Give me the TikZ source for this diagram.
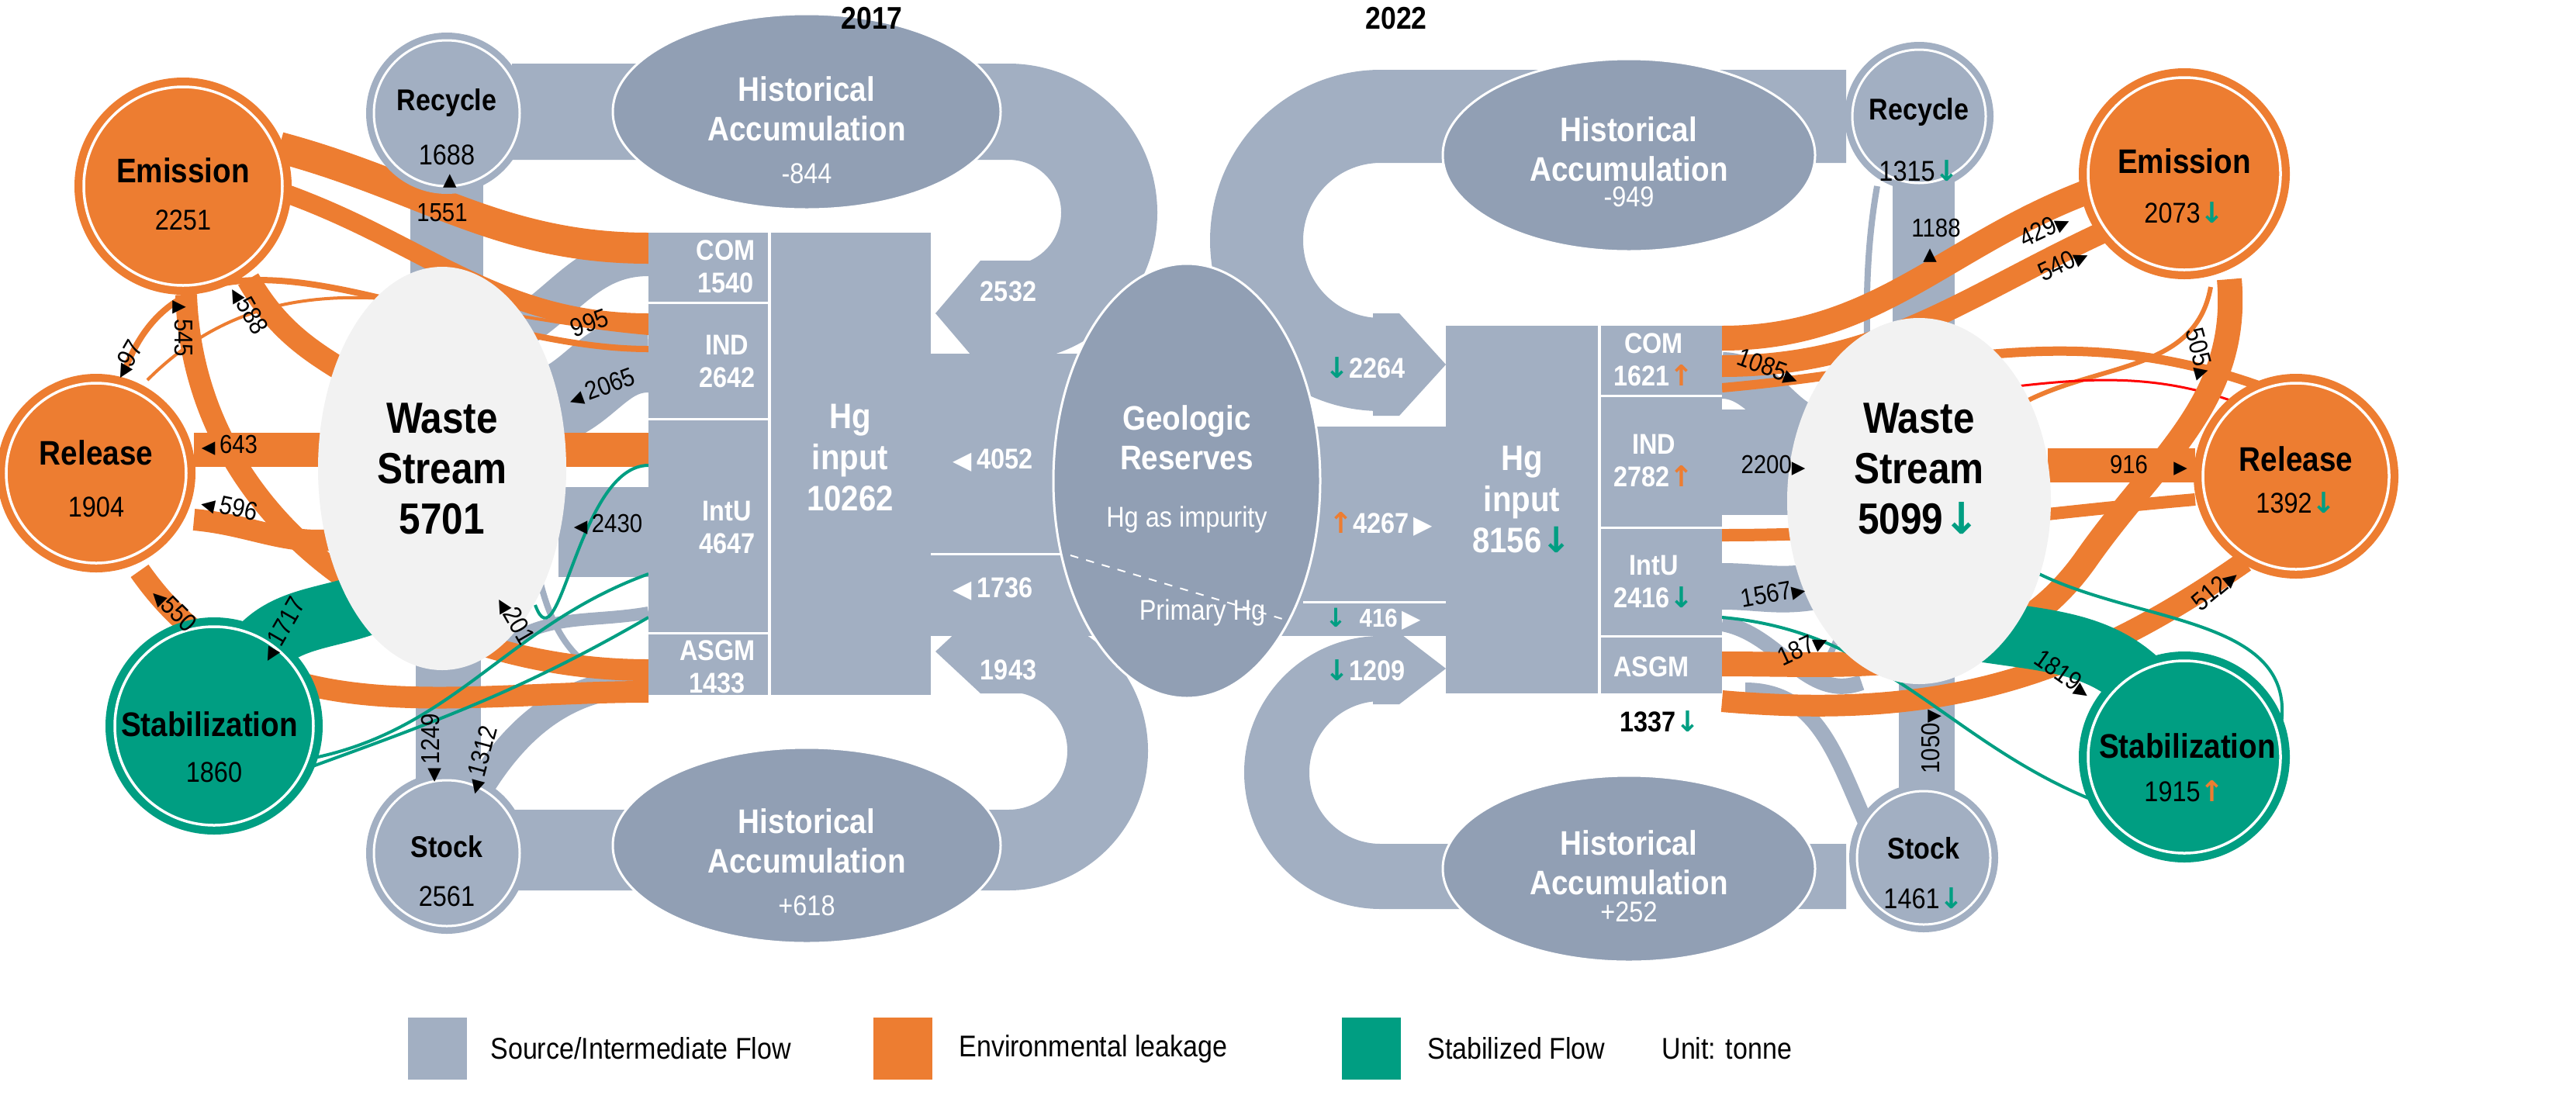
\documentclass[tikz,border=0pt]{standalone}
\usepackage{fontspec}
\setmainfont{Liberation Sans}[FakeStretch=0.88]
\newfontfamily\symf{DejaVu Sans}
\definecolor{gf}{HTML}{A2AFC2}
\definecolor{og}{HTML}{ED7D31}
\definecolor{tl}{HTML}{009E82}
\definecolor{el}{HTML}{919FB4}
\definecolor{ws}{HTML}{F2F2F2}
\newcommand\dn{{\symf\bfseries\color{tl}↓}}
\newcommand\upo{{\symf\bfseries\color{og}↑}}
\newcommand\tL{{\symf\fontsize{6.5}{6.5}\selectfont ◀}}
\newcommand\tR{{\symf\fontsize{6.5}{6.5}\selectfont ▶}}
\newcommand\tU{{\symf\fontsize{6.5}{6.5}\selectfont ▲}}
\newcommand\tD{{\symf\fontsize{6.5}{6.5}\selectfont ▼}}
\newcommand\bL{{\symf\fontsize{9}{9}\selectfont ◀}}
\newcommand\bR{{\symf\fontsize{9}{9}\selectfont ▶}}
\begin{document}
\begin{tikzpicture}[x=0.2mm,y=-0.2mm,
 fl/.style={draw=gf,line width=#1*0.2mm},
 of/.style={draw=og,line width=#1*0.2mm},
 tf/.style={draw=tl,line width=#1*0.2mm},
 ttl/.style={font=\fontsize{11}{13}\selectfont\bfseries},
 num/.style={font=\fontsize{10.5}{12}\selectfont},
 lab/.style={font=\fontsize{9.5}{11}\selectfont},
 wl/.style={font=\fontsize{10.5}{12}\selectfont\bfseries,text=white,align=center},
 big/.style={font=\fontsize{16}{18.5}\selectfont\bfseries,align=center},
 hg/.style={font=\fontsize{13}{15}\selectfont\bfseries,text=white,align=center},
 leg/.style={font=\fontsize{11}{13}\selectfont,anchor=west}]
\useasboundingbox (0,0) rectangle (1660.5,708);

% ================= LEFT (2017) gray flows =================
\draw[fl=62] (330,72) -- (650,72) arc[start angle=-90,end angle=90,radius=65];
\fill[gf] (665,168) -- (632,168) -- (603,202) -- (632,236) -- (665,236) -- cycle;
\draw[fl=52] (330,548) -- (650,548) arc[start angle=90,end angle=-90,radius=64];
\fill[gf] (665,393) -- (632,393) -- (603,420) -- (632,447) -- (665,447) -- cycle;
\fill[gf] (600,228) rectangle (725,410);
\draw[white,line width=0.3mm] (600,357) -- (725,357);
\draw[fl=47] (288,110) -- (288,200);
\draw[fl=42] (289,420) -- (289,510);
\draw[fl=26] (418,165) to[out=180,in=30] (330,215);
\draw[fl=50] (418,228) to[out=180,in=20] (355,262);
\draw[fl=58] (418,343) -- (360,343);
\draw[fl=8] (418,395) to[out=190,in=40] (320,420);
\draw[fl=18] (418,440) to[out=180,in=60] (305,515);
\draw[fl=4] (330,230) to[out=-80,in=180] (418,440);

% ================= LEFT orange / teal =================
\draw[of=20] (180,95) to[out=-15,in=180] (418,160);
\draw[of=12] (185,125) to[out=-20,in=180] (418,208);
\draw[of=15] (160,180) to[out=-60,in=150] (240,250);
\draw[of=14] (120,190) to[out=-88,in=180] (418,432);
\draw[of=4] (80,240) to[out=70,in=180] (418,225);
\draw[of=2] (95,245) to[out=45,in=175] (418,215);
\draw[of=22] (125,290) -- (418,290);
\draw[of=14] (125,335) to[out=-5,in=195] (230,345);
\draw[of=14] (90,368) to[out=-55,in=180] (418,446);
\draw[tf=40] (262,375) to[out=220,in=60] (160,428);
\draw[tf=2] (195,490) to[out=10,in=200] (418,370);
\draw[tf=2] (185,500) to[out=20,in=210] (418,398);
\draw[tf=2] (345,390) to[out=-70,in=180] (418,300);

% ================= RIGHT (2022) gray flows =================
\draw[fl=60] (1190,75) -- (890,75) arc[start angle=-90,end angle=-270,radius=80];
\fill[gf] (885,202) -- (902,202) -- (932,235) -- (902,268) -- (885,268) -- cycle;
\draw[fl=42] (1190,565) -- (890,565) arc[start angle=90,end angle=270,radius=67];
\fill[gf] (885,408) -- (902,408) -- (932,431) -- (902,454) -- (885,454) -- cycle;
\fill[gf] (815,275) rectangle (932,410);
\draw[white,line width=0.3mm] (840,388) -- (932,388);
\draw[fl=40] (1240,110) -- (1240,210);
\draw[fl=36] (1242,430) -- (1242,520);
\draw[fl=4] (1210,120) to[out=-100,in=60] (1170,440);
\draw[fl=30] (1110,242) to[out=0,in=200] (1180,275);
\draw[fl=68] (1110,298) -- (1175,298);
\draw[fl=30] (1110,378) to[out=0,in=190] (1170,378);
\draw[fl=10] (1110,402) to[out=-10,in=200] (1200,440);
\draw[fl=10] (1125,445) to[out=0,in=120] (1215,555);

% ================= RIGHT orange / teal =================
\draw[of=16] (1110,218) to[out=0,in=200] (1350,122);
\draw[of=14] (1110,236) to[out=0,in=205] (1355,150);
\draw[of=6] (1110,250) to[out=5,in=160] (1460,250);
\draw[of=3] (1425,185) to[out=-100,in=30] (1300,262);
\draw[red,line width=0.3mm] (1190,258) to[out=0,in=155] (1462,268);
\draw[of=22] (1320,300) -- (1415,300);
\draw[of=8] (1110,345) to[out=0,in=185] (1415,322);
\draw[of=16] (1110,428) to[out=0,in=235] (1345,360) to[out=55,in=-85] (1437,180);
\draw[of=14] (1110,452) to[out=-5,in=215] (1447,362);
\draw[tf=40] (1245,400) to[out=-15,in=125] (1392,455);
\draw[tf=2] (1305,365) to[out=-30,in=80] (1470,470);
\draw[tf=2] (1110,398) to[out=-5,in=160] (1360,520);

% ================= NODES left =================
\fill[el] (520,72) ellipse [x radius=125,y radius=63];
\draw[white,line width=0.3mm] (520,72) ellipse [x radius=125,y radius=63];
\node[wl,font=\fontsize{12.5}{14.5}\selectfont\bfseries] (hal) at (520,70) {Historical\\Accumulation};
\node[wl,font=\fontsize{10.5}{12}\selectfont] (hav) at (520,112) {-844};
\fill[el] (520,545) ellipse [x radius=125,y radius=63];
\draw[white,line width=0.3mm] (520,545) ellipse [x radius=125,y radius=63];
\node[wl,font=\fontsize{12.5}{14.5}\selectfont\bfseries] (hbl) at (520,542) {Historical\\Accumulation};
\node[wl,font=\fontsize{10.5}{12}\selectfont] (hbv) at (520,584) {+618};

\fill[gf] (288,73) circle[radius=52]; \draw[white,line width=0.3mm] (288,73) circle[radius=47];
\node[ttl] (rec) at (288,66) {Recycle}; \node[num] at (288,100) {1688};
\fill[gf] (288,550) circle[radius=52]; \draw[white,line width=0.3mm] (288,550) circle[radius=47];
\node[ttl] (sto) at (288,546) {Stock}; \node[num] at (288,578) {2561};
\fill[og] (118,120) circle[radius=70]; \draw[white,line width=0.35mm] (118,120) circle[radius=64];
\node[ttl,font=\fontsize{12.5}{14}\selectfont\bfseries] (emi) at (118,110) {Emission}; \node[num] at (118,142) {2251};
\fill[og] (62,305) circle[radius=64]; \draw[white,line width=0.35mm] (62,305) circle[radius=58];
\node[ttl,font=\fontsize{12.5}{14}\selectfont\bfseries] (rel) at (62,292) {Release}; \node[num] at (62,327) {1904};
\fill[tl] (138,468) circle[radius=70]; \draw[white,line width=0.35mm] (138,468) circle[radius=64];
\node[ttl,font=\fontsize{12.5}{14}\selectfont\bfseries] (sta) at (135,467) {Stabilization}; \node[num] at (138,498) {1860};
\fill[ws] (285,302) ellipse [x radius=80,y radius=130];
\node[big] (wsl) at (285,302) {Waste\\Stream\\5701};

\fill[gf] (418,150) rectangle (495,448);
\fill[gf] (497,150) rectangle (600,448);
\draw[white,line width=0.3mm] (418,195) -- (495,195) (418,270) -- (495,270) (418,408) -- (495,408);
\node[wl,anchor=east] (coml) at (493,172) {COM\\1540};
\node[wl,anchor=east] (indl) at (493,233) {IND\\2642};
\node[wl,anchor=east] (intl) at (493,340) {IntU\\4647};
\node[wl,anchor=east] (asgl) at (493,430) {ASGM\\1433};
\node[hg] (hgl) at (548,295) {Hg\\input\\10262};

\fill[el] (765,310) ellipse [x radius=86,y radius=140];
\draw[white,line width=0.3mm] (765,310) ellipse [x radius=86,y radius=140];
\draw[white,dashed,line width=0.2mm] (690,358) -- (830,400);
\node[wl,font=\fontsize{12.5}{14.5}\selectfont\bfseries] (geo) at (765,282) {Geologic\\Reserves};
\node[wl,font=\fontsize{10.5}{12}\selectfont] at (765,335) {Hg as impurity};
\node[wl,font=\fontsize{10.5}{12}\selectfont] at (775,395) {Primary Hg};

% ================= NODES right =================
\fill[el] (1050,100) ellipse [x radius=120,y radius=62];
\draw[white,line width=0.3mm] (1050,100) ellipse [x radius=120,y radius=62];
\node[wl,font=\fontsize{12.5}{14.5}\selectfont\bfseries] (har) at (1050,96) {Historical\\Accumulation};
\node[wl,font=\fontsize{10.5}{12}\selectfont] at (1050,127) {-949};
\fill[el] (1050,560) ellipse [x radius=120,y radius=60];
\draw[white,line width=0.3mm] (1050,560) ellipse [x radius=120,y radius=60];
\node[wl,font=\fontsize{12.5}{14.5}\selectfont\bfseries] (hbr) at (1050,556) {Historical\\Accumulation};
\node[wl,font=\fontsize{10.5}{12}\selectfont] at (1050,588) {+252};

\fill[gf] (1237,75) circle[radius=48]; \draw[white,line width=0.3mm] (1237,75) circle[radius=43];
\node[ttl] (recr) at (1237,72) {Recycle}; \node[num] at (1237,110) {1315\dn};
\fill[gf] (1240,553) circle[radius=48]; \draw[white,line width=0.3mm] (1240,553) circle[radius=43];
\node[ttl] (stor) at (1240,547) {Stock}; \node[num] at (1240,579) {1461\dn};
\fill[og] (1408,112) circle[radius=68]; \draw[white,line width=0.35mm] (1408,112) circle[radius=62];
\node[ttl,font=\fontsize{12.5}{14}\selectfont\bfseries] (emir) at (1408,104) {Emission}; \node[num] at (1408,137) {2073\dn};
\fill[og] (1480,307) circle[radius=66]; \draw[white,line width=0.35mm] (1480,307) circle[radius=60];
\node[ttl,font=\fontsize{12.5}{14}\selectfont\bfseries] (relr) at (1480,296) {Release}; \node[num] at (1480,324) {1392\dn};
\fill[tl] (1408,488) circle[radius=68]; \draw[white,line width=0.35mm] (1408,488) circle[radius=62];
\node[ttl,font=\fontsize{12.5}{14}\selectfont\bfseries] (star) at (1410,481) {Stabilization}; \node[num] at (1408,510) {1915\upo};
\fill[ws] (1237,323) ellipse [x radius=85,y radius=118];
\node[big] (wsr) at (1237,302) {Waste\\Stream\\5099\dn};

\fill[gf] (932,210) rectangle (1030,447);
\fill[gf] (1032,210) rectangle (1110,447);
\draw[white,line width=0.3mm] (1032,255) -- (1110,255) (1032,340) -- (1110,340) (1032,410) -- (1110,410);
\node[wl,anchor=west] (comr) at (1034,232) {COM\\1621\upo};
\node[wl,anchor=west] (indr) at (1034,297) {IND\\2782\upo};
\node[wl,anchor=west] (intr) at (1034,375) {IntU\\2416\dn};
\node[wl,anchor=west] (asgr) at (1034,430) {ASGM};
\node[font=\fontsize{10.5}{12}\selectfont\bfseries] at (1070,465) {1337\dn};
\node[hg] (hgr) at (981,322) {Hg\\input\\8156\dn};

% ================= flow labels =================
\node[wl] at (650,188) {2532};
\node[wl] at (650,432) {1943};
\node[wl] at (640,297) {\bL\,4052};
\node[wl] at (640,380) {\bL\,1736};
\node[wl] at (880,237) {\dn2264};
\node[wl] at (880,432) {\dn1209};
\node[wl] at (890,338) {\upo4267\,\bR};
\node[wl,font=\fontsize{9.5}{10}\selectfont\bfseries] at (885,399) {\dn\ \ 416\,\bR};

\node[lab] at (290,117) {\tU}; \node[lab] at (285,137) {1551};
\node[lab,rotate=20] at (380,208) {995};
\node[lab,rotate=20] at (388,250) {\tL\,2065};
\node[lab] at (392,338) {\tL\,2430};
\node[lab,rotate=-60] at (332,400) {\tL201};
\node[lab,rotate=90] at (278,482) {\tL\,1249};
\node[lab,rotate=75] at (310,490) {\tL\,1312};
\node[lab] at (148,287) {\tL\,643};
\node[lab,rotate=-12] at (148,327) {\tL\,596};
\node[lab,rotate=-45] at (112,393) {\tL550};
\node[lab,rotate=60] at (182,406) {\tL\,1717};
\node[lab,rotate=-90] at (118,212) {\tU\,545};
\node[lab,rotate=-60] at (160,200) {\tL588};
\node[lab,rotate=60] at (82,232) {\tL97};

\node[lab] at (1244,165) {\tU}; \node[lab] at (1248,147) {1188};
\node[lab,rotate=25] at (1318,148) {429\tR};
\node[lab,rotate=25] at (1330,170) {540\tR};
\node[lab,rotate=-75] at (1418,228) {505\tU};
\node[lab] at (1385,300) {916\quad\tR};
\node[lab,rotate=40] at (1428,380) {512\tR};
\node[lab,rotate=-20] at (1140,237) {1085\tR};
\node[lab] at (1143,300) {2200\tR};
\node[lab,rotate=10] at (1143,383) {1567\tR};
\node[lab,rotate=25] at (1162,418) {187\tR};
\node[lab,rotate=90] at (1245,478) {1050\tD};
\node[lab,rotate=-35] at (1330,435) {1819\tR};

% ================= titles & legend =================
\node[font=\fontsize{11.5}{13}\selectfont\bfseries] at (562,12) {2017};
\node[font=\fontsize{11.5}{13}\selectfont\bfseries] at (900,12) {2022};
\fill[gf] (263,656) rectangle (301,696); \node[leg] at (310,676) {Source/Intermediate Flow};
\fill[og] (563,656) rectangle (601,696); \node[leg] at (612,676) {Environmental leakage};
\fill[tl] (865,656) rectangle (903,696); \node[leg] at (914,676) {Stabilized Flow};
\node[leg] at (1065,676) {Unit: tonne};
\end{tikzpicture}
\end{document}
